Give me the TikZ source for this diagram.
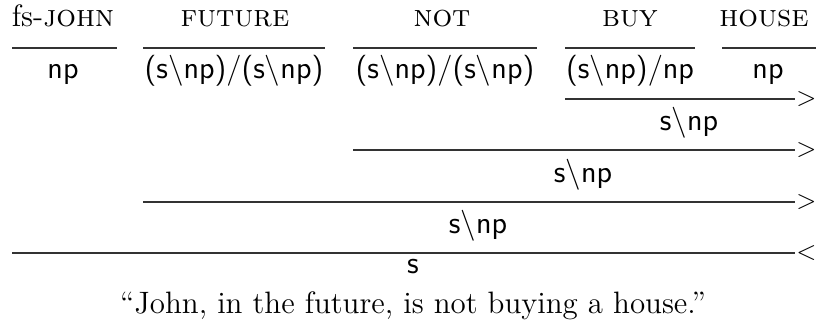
\documentclass[tikz,border=0pt]{standalone}
\usepackage{tikz}
\usetikzlibrary{positioning}

\begin{document}
\begin{tikzpicture}[
    x=0.3876pt, y=-0.3876pt,
    word/.style={
        font=\large,
        inner sep=0pt,
        anchor=base
    },
    cat/.style={
        font=\large\sffamily,
        inner sep=0pt,
        anchor=base
    },
    rule/.style={
        line width=0.5pt,
        draw=black!80
    },
    comb/.style={
        font=\normalsize,
        inner sep=0pt,
        anchor=base west,
        xshift=0.3pt,
        yshift=-2.5pt
    }
]
\useasboundingbox (0,0) rectangle (816,330);

% Words
\node[word] (john)   at (63,27)  {fs-\textsc{john}};
\node[word] (future) at (235,27) {\textsc{future}};
\node[word] (not)    at (442,27) {\textsc{not}};
\node[word] (buy)    at (630,27) {\textsc{buy}};
\node[word] (house)  at (764,27) {\textsc{house}};

% Lexical categories
\coordinate (lexA1) at (12,48);  \coordinate (lexA2) at (117,48);
\coordinate (lexB1) at (143,48); \coordinate (lexB2) at (325,48);
\coordinate (lexC1) at (353,48); \coordinate (lexC2) at (537,48);
\coordinate (lexD1) at (565,48); \coordinate (lexD2) at (695,48);
\coordinate (lexE1) at (722,48); \coordinate (lexE2) at (816,48);
\draw[rule] (lexA1) -- (lexA2);
\draw[rule] (lexB1) -- (lexB2);
\draw[rule] (lexC1) -- (lexC2);
\draw[rule] (lexD1) -- (lexD2);
\draw[rule] (lexE1) -- (lexE2);

\node[cat] (npJ)  at (63,78)  {np};
\node[cat] (futC) at (234,78) {(s$\backslash$np)/(s$\backslash$np)};
\node[cat] (notC) at (445,78) {(s$\backslash$np)/(s$\backslash$np)};
\node[cat] (buyC) at (630,78) {(s$\backslash$np)/np};
\node[cat] (npH)  at (768,78) {np};

% Forward application: buy + house
\coordinate (appA1) at (565,99); \coordinate (appA2) at (795,99);
\draw[rule] (appA1) -- (appA2);
\node[comb] (gtA) at (appA2) {$>$};
\node[cat] (vpA) at (689,130) {s$\backslash$np};

% Forward application: not + vp
\coordinate (appB1) at (353,150); \coordinate (appB2) at (795,150);
\draw[rule] (appB1) -- (appB2);
\node[comb] (gtB) at (appB2) {$>$};
\node[cat] (vpB) at (583,182) {s$\backslash$np};

% Forward application: future + vp
\coordinate (appC1) at (143,202); \coordinate (appC2) at (795,202);
\draw[rule] (appC1) -- (appC2);
\node[comb] (gtC) at (appC2) {$>$};
\node[cat] (vpC) at (478,233) {s$\backslash$np};

% Backward application: subject + vp
\coordinate (appD1) at (12,253); \coordinate (appD2) at (795,253);
\draw[rule] (appD1) -- (appD2);
\node[comb] (ltD) at (appD2) {$<$};
\node[cat] (sD) at (413,273) {s};

% Translation
\node[word] (gloss) at (413,313) {``John, in the future, is not buying a house.''};

\end{tikzpicture}
\end{document}
